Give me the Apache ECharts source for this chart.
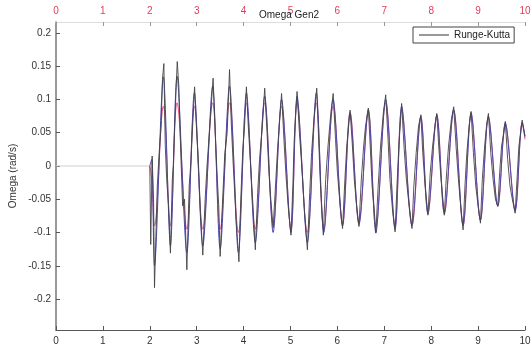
<!DOCTYPE html>
<html>
<head>
    <meta charset="UTF-8"/>
    <title>Omega Gen2</title>
    <script src="https://cdn.jsdelivr.net/npm/echarts@6/dist/echarts.min.js"></script>
</head>
<body style="margin:0;background:#fff;">
<div id="main" style="width:531px;height:352px;"></div>
<script>
    // Runge-Kutta trace (black)
    var rkTime = [2.00, 2.02, 2.05, 2.08, 2.10, 2.16, 2.20, 2.24, 2.27, 2.30, 2.33, 2.36, 2.40, 2.44, 2.48, 2.50, 2.54, 2.585, 2.62, 2.66,
        2.70, 2.74, 2.79, 2.84, 2.88, 2.92, 2.955, 3.00, 3.04, 3.08, 3.13, 3.18, 3.22, 3.28, 3.35, 3.40, 3.44, 3.47, 3.50, 3.56,
        3.60, 3.65, 3.70, 3.74, 3.78, 3.84, 3.90, 3.94, 3.98, 4.02, 4.06, 4.10, 4.15, 4.20, 4.25, 4.30, 4.34, 4.40, 4.45, 4.50,
        4.54, 4.58, 4.63, 4.68, 4.72, 4.76, 4.81, 4.86, 4.90, 4.95, 5.01, 5.05, 5.08, 5.14, 5.19, 5.24, 5.30, 5.36, 5.41, 5.45,
        5.50, 5.56, 5.60, 5.64, 5.70, 5.75, 5.80, 5.86, 5.91, 5.96, 6.00, 6.06, 6.11, 6.16, 6.20, 6.27, 6.32, 6.36, 6.41, 6.46,
        6.51, 6.56, 6.60, 6.66, 6.70, 6.74, 6.78, 6.82, 6.87, 6.92, 6.98, 7.03, 7.08, 7.12, 7.18, 7.23, 7.27, 7.31, 7.37, 7.42,
        7.47, 7.53, 7.59, 7.63, 7.68, 7.73, 7.78, 7.82, 7.87, 7.93, 7.98, 8.03, 8.08, 8.12, 8.16, 8.21, 8.28, 8.32, 8.37, 8.43,
        8.48, 8.53, 8.58, 8.63, 8.68, 8.72, 8.76, 8.81, 8.85, 8.90, 8.95, 9.00, 9.05, 9.09, 9.14, 9.18, 9.22, 9.27, 9.32, 9.37,
        9.42, 9.46, 9.50, 9.55, 9.58, 9.63, 9.68, 9.73, 9.79, 9.83, 9.87, 9.91, 9.94, 10.0];
    var rkOmega = [0, -0.118, 0.015, -0.05, -0.183, -0.03, 0.02, 0.06, 0.13, 0.154, 0.03, -0.02, -0.06, -0.131, -0.02, 0.0, 0.08, 0.157, 0.119, 0.02,
        -0.06, -0.05, -0.156, -0.03, 0.01, 0.07, 0.119, 0.05, 0.0, -0.07, -0.134, -0.05, 0.0, 0.06, 0.132, 0.04, -0.02, -0.06, -0.136, -0.04,
        0.02, 0.05, 0.145, 0.06, 0.0, -0.08, -0.144, -0.05, 0.02, 0.06, 0.119, 0.06, 0.0, -0.06, -0.126, -0.04, 0.01, 0.06, 0.117, 0.05,
        -0.01, -0.05, -0.093, -0.03, 0.02, 0.06, 0.109, 0.04, -0.01, -0.06, -0.104, -0.03, 0.04, 0.112, 0.05, 0.0, -0.07, -0.126, -0.04, 0.02,
        0.07, 0.117, 0.04, -0.03, -0.104, -0.02, 0.03, 0.08, 0.109, 0.04, -0.01, -0.06, -0.094, -0.02, 0.03, 0.084, 0.03, -0.02, -0.06, -0.091,
        -0.02, 0.03, 0.06, 0.087, 0.03, -0.03, -0.06, -0.101, -0.03, 0.03, 0.08, 0.107, 0.04, -0.02, -0.07, -0.099, -0.03, 0.03, 0.094, 0.03,
        -0.02, -0.06, -0.094, -0.03, 0.02, 0.06, 0.077, 0.02, -0.03, -0.074, -0.01, 0.03, 0.06, 0.079, 0.03, -0.02, -0.074, -0.02, 0.03, 0.07,
        0.089, 0.03, -0.02, -0.06, -0.096, -0.03, 0.02, 0.06, 0.082, 0.02, -0.03, -0.06, -0.086, -0.02, 0.03, 0.06, 0.079, 0.02, -0.02, -0.05,
        -0.061, -0.01, 0.03, 0.05, 0.067, 0.01, -0.03, -0.05, -0.071, -0.02, 0.03, 0.05, 0.069, 0.044];

    // the two other traces (blue, red), read at the swing extremes
    var refTime = [2.0, 2.04, 2.10, 2.29, 2.44, 2.58, 2.79, 2.95, 3.13, 3.34, 3.50, 3.70, 3.89, 4.06, 4.25, 4.45, 4.63, 4.81, 5.01, 5.14,
        5.36, 5.55, 5.71, 5.91, 6.11, 6.27, 6.46, 6.66, 6.82, 7.03, 7.23, 7.37, 7.59, 7.78, 7.93, 8.12, 8.28, 8.48, 8.68, 8.85,
        9.05, 9.22, 9.42, 9.58, 9.79, 9.94, 10.0];
    var blueOmega = [0, 0.01, -0.15, 0.134, -0.12, 0.135, -0.13, 0.11, -0.12, 0.12, -0.125, 0.12, -0.13, 0.11, -0.115, 0.105, -0.1, 0.1, -0.1, 0.105,
        -0.115, 0.11, -0.1, 0.1, -0.09, 0.08, -0.088, 0.085, -0.1, 0.1, -0.095, 0.09, -0.09, 0.075, -0.072, 0.077, -0.072, 0.085, -0.09, 0.08,
        -0.082, 0.075, -0.06, 0.065, -0.068, 0.066, 0.045];
    var redOmega = [0, -0.02, -0.09, 0.09, -0.09, 0.095, -0.095, 0.09, -0.095, 0.095, -0.095, 0.095, -0.1, 0.095, -0.095, 0.095, -0.09, 0.09, -0.095, 0.095,
        -0.1, 0.095, -0.095, 0.09, -0.088, 0.08, -0.085, 0.082, -0.092, 0.095, -0.09, 0.085, -0.088, 0.072, -0.07, 0.075, -0.07, 0.082, -0.088, 0.078,
        -0.08, 0.072, -0.06, 0.063, -0.065, 0.064, 0.04];

    // steady state before the disturbance
    var preTime = [0, 2.0];
    var preOmega = [0, 0];

    var yTicks = [-0.2, -0.15, -0.1, -0.05, 0, 0.05, 0.1, 0.15, 0.2];

    function pairs(t, v) {
        var out = [];
        for (var i = 0; i < t.length; i++) out.push([t[i], v[i]]);
        return out;
    }

    var myChart = echarts.init(document.getElementById('main'));
    var font = 'Liberation Sans, Arial, sans-serif';

    var option = {
        animation: false,
        backgroundColor: '#fff',
        title: {
            text: 'Omega Gen2',
            left: 254, top: 5,
            textStyle: {fontSize: 10, fontWeight: 'normal', color: '#222', fontFamily: font}
        },
        legend: {
            data: ['Runge-Kutta'],
            left: 413, top: 27,
            padding: [3, 4, 3, 6],
            borderColor: '#444', borderWidth: 1,
            icon: 'rect', itemWidth: 30, itemHeight: 1,
            textStyle: {fontSize: 10, color: '#222', fontFamily: font}
        },
        grid: {left: 56, right: 6, top: 22, bottom: 22, outerBoundsMode: 'none'},
        xAxis: [{
            type: 'value', position: 'bottom', min: 0, max: 10, interval: 1,
            axisLine: {onZero: false, lineStyle: {color: '#555', width: 1.2}},
            axisTick: {inside: true, length: 4, lineStyle: {color: '#555'}},
            axisLabel: {color: '#333', fontSize: 10, fontFamily: font, margin: 6},
            splitLine: {show: false}
        }, {
            type: 'value', position: 'top', min: 0, max: 10, interval: 1,
            axisLine: {onZero: false, lineStyle: {color: '#ddd', width: 1}},
            axisTick: {inside: true, length: 4, lineStyle: {color: '#999'}},
            axisLabel: {color: '#e0405a', fontSize: 10, fontFamily: font, margin: 6},
            splitLine: {show: false}
        }],
        yAxis: {
            type: 'value', min: -0.2466, max: 0.2165,
            name: 'Omega (rad/s)', nameLocation: 'middle', nameGap: 38, nameMoveOverlap: false,
            nameTextStyle: {fontSize: 10, color: '#333', fontFamily: font},
            axisLine: {onZero: false, lineStyle: {color: '#777', width: 1.5}},
            axisTick: {inside: true, length: 4, customValues: yTicks, lineStyle: {color: '#555'}},
            axisLabel: {color: '#333', fontSize: 10, fontFamily: font, margin: 5, customValues: yTicks},
            splitLine: {show: false}
        },
        series: [{
            name: 'Pre', type: 'line', symbol: 'none', silent: true,
            data: pairs(preTime, preOmega),
            lineStyle: {color: '#cfcfcf', width: 1}
        }, {
            name: 'Red', type: 'line', symbol: 'none', smooth: 0.4,
            data: pairs(refTime, redOmega),
            lineStyle: {color: '#e0507a', width: 1}
        }, {
            name: 'Blue', type: 'line', symbol: 'none', smooth: 0.3,
            data: pairs(refTime, blueOmega),
            lineStyle: {color: '#4a4ab0', width: 1}
        }, {
            name: 'Runge-Kutta', type: 'line', symbol: 'none',
            data: pairs(rkTime, rkOmega),
            itemStyle: {color: '#333'},
            lineStyle: {color: '#444', width: 0.9}
        }]
    };

    myChart.setOption(option);
</script>
</body>
</html>
